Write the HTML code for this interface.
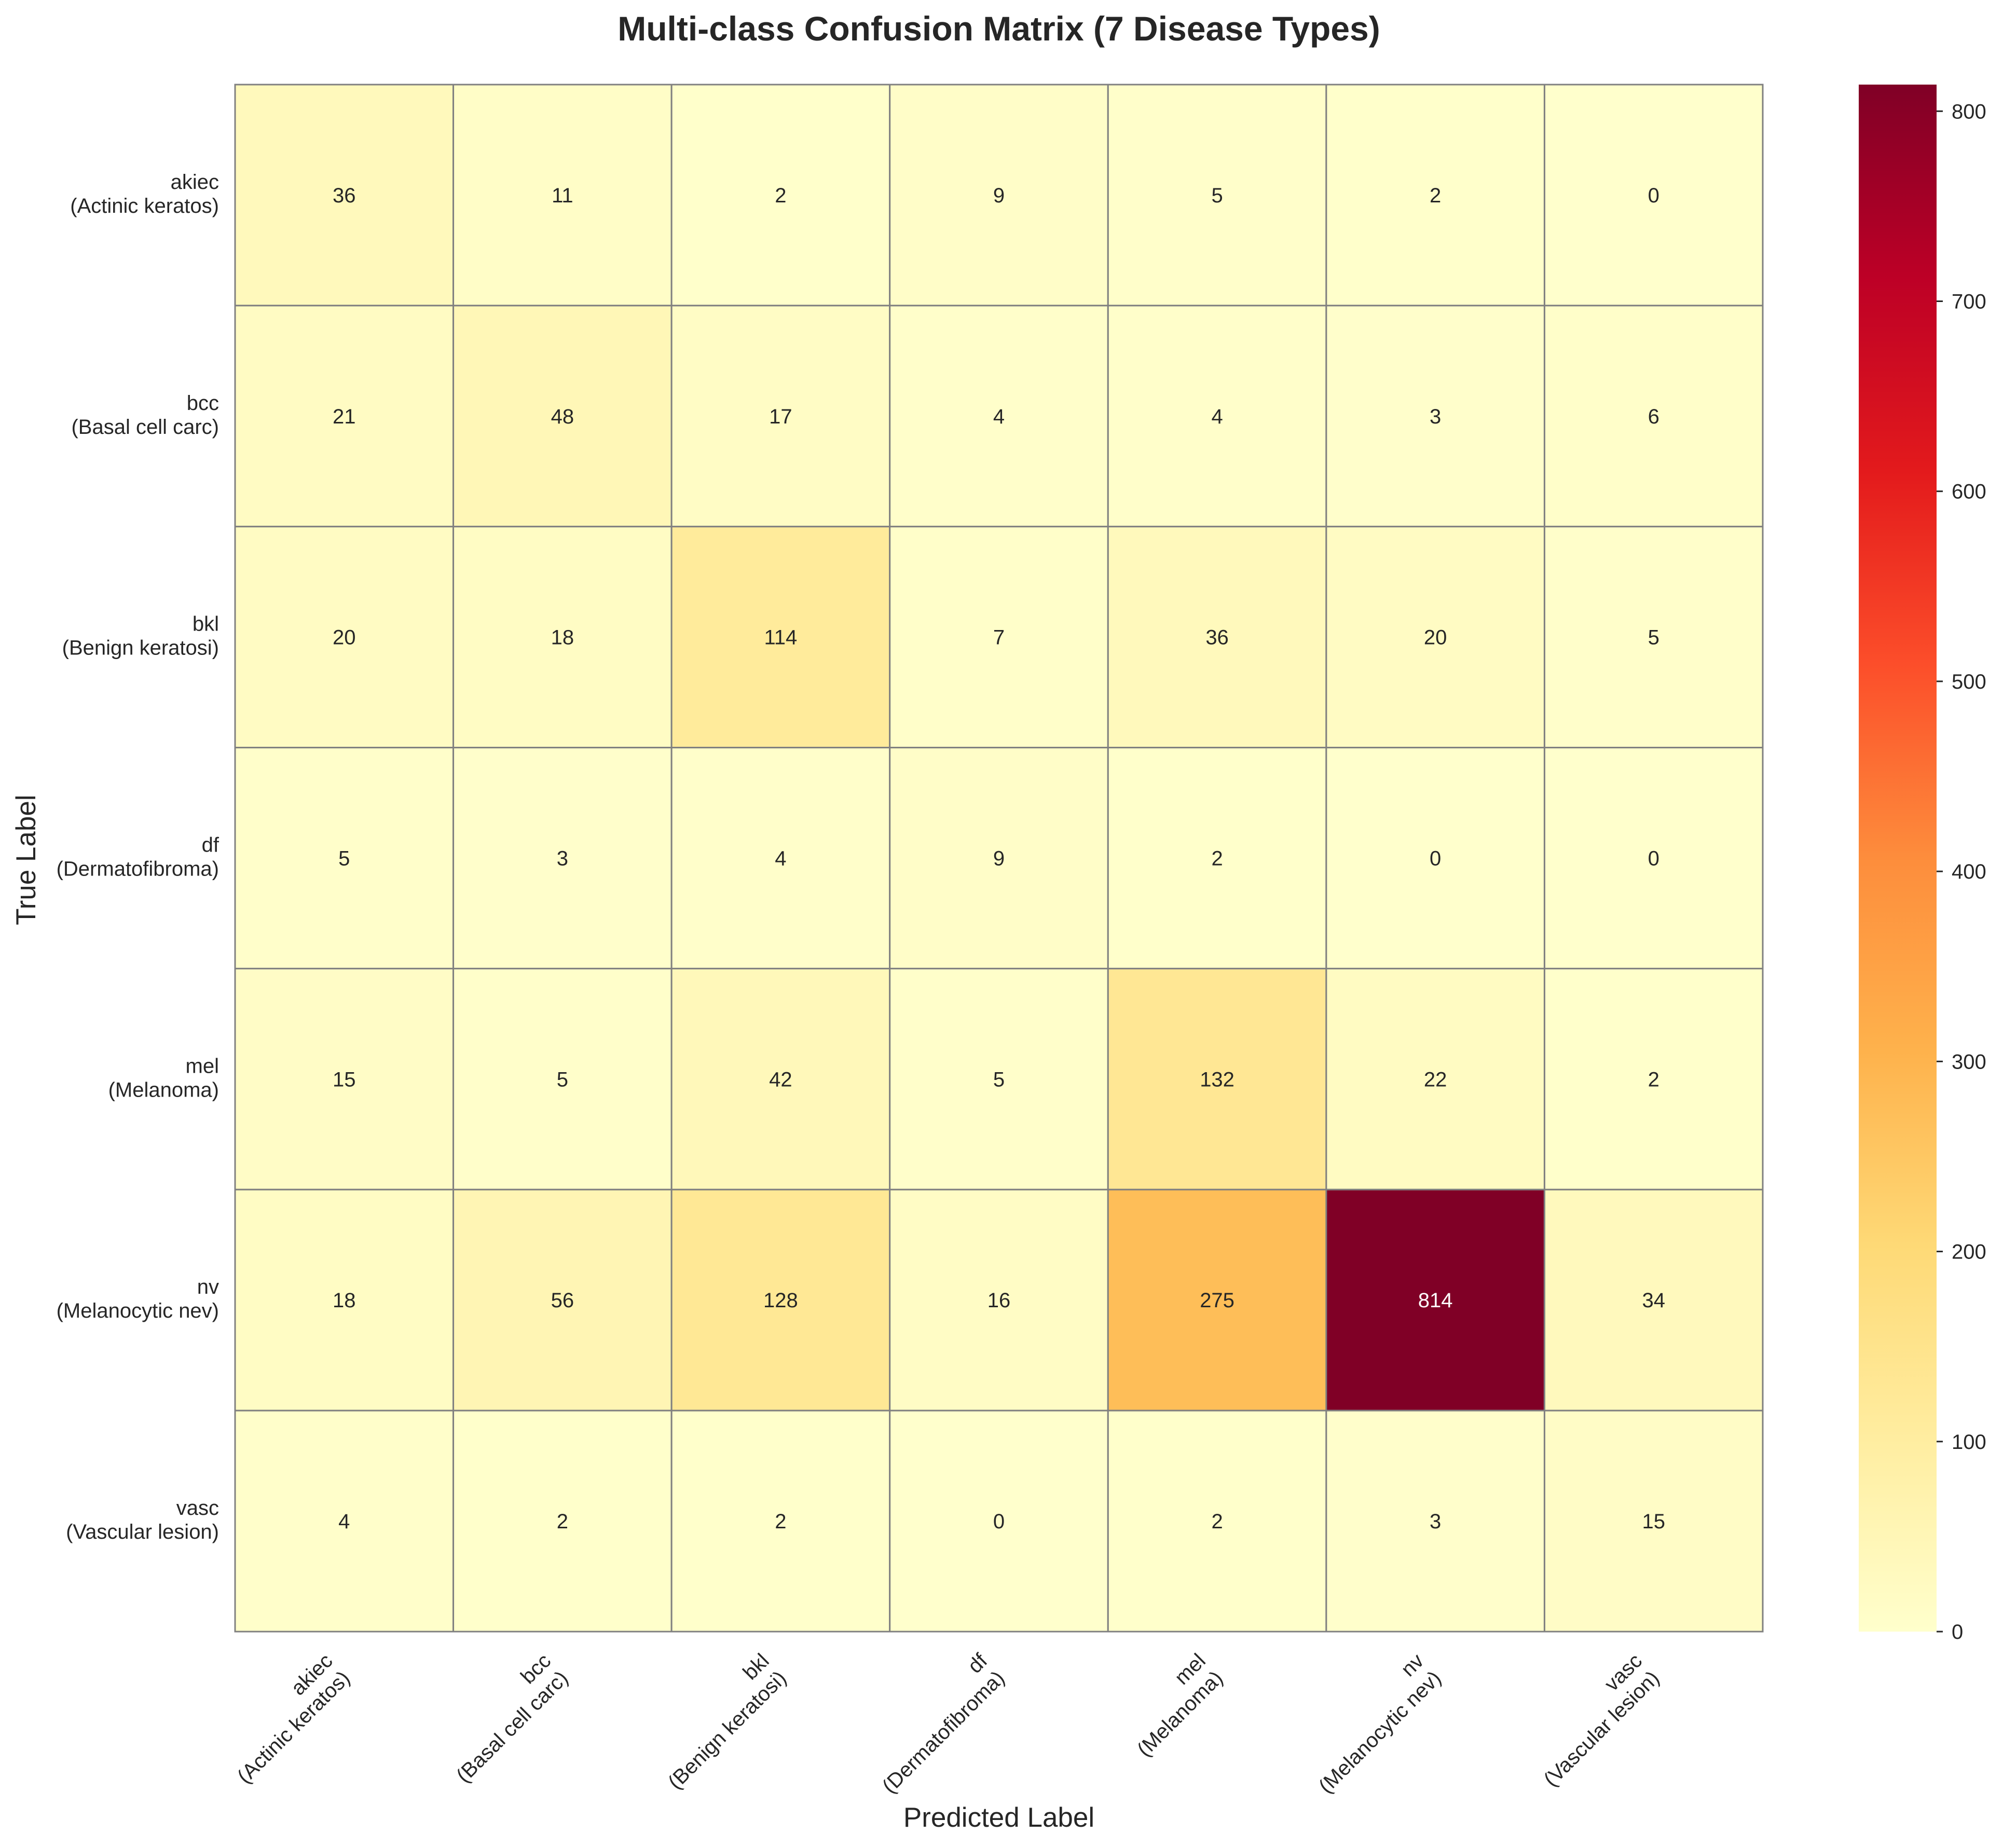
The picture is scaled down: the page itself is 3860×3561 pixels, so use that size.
<!DOCTYPE html>
<html><head><meta charset="utf-8"><style>html,body{margin:0;padding:0;background:#fff}svg{display:block}</style></head>
<body>
<svg id="chart" width="3860" height="3561" xmlns="http://www.w3.org/2000/svg" font-family="'Liberation Sans', Arial, sans-serif">
<rect width="3860" height="3561" fill="#fff"/>
<text x="1925" y="78" text-anchor="middle" font-size="66" font-weight="bold" fill="#262626">Multi-class Confusion Matrix (7 Disease Types)</text>
<g id="cells"></g>
<g id="ylabels"></g>
<g id="xlabels"></g>
<text transform="translate(68,1657) rotate(-90)" text-anchor="middle" font-size="53" fill="#262626">True Label</text>
<text x="1925" y="3520" text-anchor="middle" font-size="53" fill="#262626">Predicted Label</text>
<defs><linearGradient id="cg" x1="0" y1="1" x2="0" y2="0">
<stop offset="0" stop-color="#ffffcc"/><stop offset="0.125" stop-color="#ffeda0"/><stop offset="0.25" stop-color="#fed976"/><stop offset="0.375" stop-color="#feb24c"/><stop offset="0.5" stop-color="#fd8d3c"/><stop offset="0.625" stop-color="#fc4e2a"/><stop offset="0.75" stop-color="#e31a1c"/><stop offset="0.875" stop-color="#bd0026"/><stop offset="1" stop-color="#800026"/></linearGradient></defs>
<rect x="3582" y="163" width="150" height="2981" fill="url(#cg)"/>
<g id="cbticks"></g>
</svg>
<script>
const categories = ["akiec","bcc","bkl","df","mel","nv","vasc"];
const fullNames = ["(Actinic keratos)","(Basal cell carc)","(Benign keratosi)","(Dermatofibroma)","(Melanoma)","(Melanocytic nev)","(Vascular lesion)"];
const row_akiec = [36,11,2,9,5,2,0];
const row_bcc = [21,48,17,4,4,3,6];
const row_bkl = [20,18,114,7,36,20,5];
const row_df = [5,3,4,9,2,0,0];
const row_mel = [15,5,42,5,132,22,2];
const row_nv = [18,56,128,16,275,814,34];
const row_vasc = [4,2,2,0,2,3,15];
const colorbarTicks = [0,100,200,300,400,500,600,700,800];

const matrix = [row_akiec,row_bcc,row_bkl,row_df,row_mel,row_nv,row_vasc];
const NS="http://www.w3.org/2000/svg";
const X0=453,X1=3397,Y0=163,Y1=3144;
const n=categories.length, cw=(X1-X0)/n, ch=(Y1-Y0)/n;
let vmax=0; matrix.forEach(r=>r.forEach(v=>{if(v>vmax)vmax=v;}));
const stops=["#ffffcc","#ffeda0","#fed976","#feb24c","#fd8d3c","#fc4e2a","#e31a1c","#bd0026","#800026"].map(h=>[parseInt(h.substr(1,2),16),parseInt(h.substr(3,2),16),parseInt(h.substr(5,2),16)]);
function cmap(v){let t=Math.max(0,Math.min(1,v/vmax))*(stops.length-1);let i=Math.min(Math.floor(t),stops.length-2);let f=t-i;
 const c=stops[i].map((a,k)=>Math.round(a+(stops[i+1][k]-a)*f));return [c,`rgb(${c[0]},${c[1]},${c[2]})`];}
function xs(j){return X0+j*cw;} function ys(i){return Y0+i*ch;}
function mk(tag,attrs,parent,txt){const e=document.createElementNS(NS,tag);for(const k in attrs)e.setAttribute(k,attrs[k]);if(txt!==undefined)e.textContent=txt;parent.appendChild(e);return e;}
const cells=document.getElementById('cells');
matrix.forEach((r,i)=>r.forEach((v,j)=>{
 const [c,col]=cmap(v);
 const rect=mk('rect',{x:xs(j),y:ys(i),width:cw,height:ch,fill:col,stroke:'#808080','stroke-width':3},cells);
 
 
 const lum=(0.299*c[0]+0.587*c[1]+0.114*c[2]);
 const t=mk('text',{x:xs(j)+cw/2,y:ys(i)+ch/2+14,'text-anchor':'middle','font-size':40,fill:lum<140?'#ffffff':'#262626'},cells,String(v));
 
 
}));
const yl=document.getElementById('ylabels');
categories.forEach((c,i)=>{
 const cy=ys(i)+ch/2;
 const t=mk('text',{x:422,y:cy-12,'text-anchor':'end','font-size':40,fill:'#262626'},yl);
 
 
 mk('tspan',{x:422,dy:0},t,c); mk('tspan',{x:422,dy:46},t,fullNames[i]);
});
const xl=document.getElementById('xlabels');
categories.forEach((c,j)=>{
 const cx=xs(j)+cw/2;
 const g=mk('g',{transform:`translate(${cx-20},3203) rotate(-45)`},xl);
 
 
 mk('text',{x:0,y:0,'text-anchor':'end','font-size':40,fill:'#262626'},g,c);
 mk('text',{x:0,y:47,'text-anchor':'end','font-size':40,fill:'#262626'},g,fullNames[j]);
});
const cb=document.getElementById('cbticks');
colorbarTicks.forEach(v=>{
 const y=Y1-(v/vmax)*(Y1-Y0);
 const l=mk('line',{x1:3732,x2:3744,y1:y,y2:y,stroke:'#262626','stroke-width':3},cb);
 
 
 const t=mk('text',{x:3761,y:y+14,'font-size':40,fill:'#262626'},cb,String(v));
 
 
});
</script>
</body></html>
